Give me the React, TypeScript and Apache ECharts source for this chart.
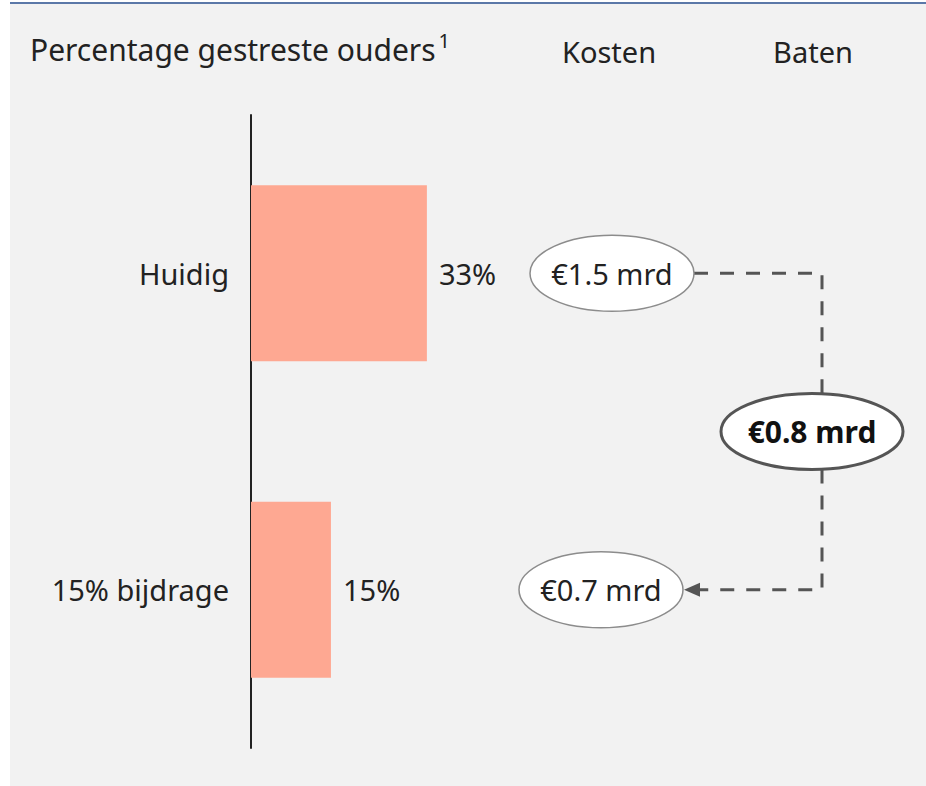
import React, { useEffect, useRef } from "react";
import * as echarts from "echarts";

const categories = ["Huidig", "15% bijdrage"];
const stressedPct = [33, 15];
const columns = ["Kosten", "Baten"];
const costs = [1.5, 0.7];
const benefit = [0.8];
const headerText = "Percentage gestreste ouders";
const footnoteMark = "1";

const FONT = '"Noto Sans", "Open Sans", sans-serif';
const TEXT = "#222222";
const DASH = "#555555";

const fmt = (v: number) => "€" + v.toFixed(1) + " mrd";

export default function App() {
  const ref = useRef<HTMLDivElement>(null);
  useEffect(() => {
    if (!ref.current) return;
    const chart = echarts.init(ref.current, null, { renderer: "svg" });
    const RX = 82;
    const RY = 38;
    const kostenShift = [3, -8];
    const batenShift = -1;
    const lineShift = 9;

    const option: any = {
      animation: false,
      backgroundColor: "#ffffff",
      graphic: [
        {
          type: "rect",
          z: -10,
          shape: { x: 10, y: 4, width: 916, height: 782 },
          style: { fill: "#f2f2f2" },
        },
        {
          type: "line",
          z: -9,
          shape: { x1: 10, y1: 3, x2: 926, y2: 3 },
          style: { stroke: "#5b78a8", lineWidth: 2 },
        },
      ],
      title: {
        text: "{a|" + headerText + "}{s|" + footnoteMark + "}",
        left: 25,
        top: 25,
        textStyle: {
          rich: {
            a: { fontFamily: FONT, fontSize: 30, color: TEXT, lineHeight: 39, fontWeight: "normal" },
            s: { fontFamily: FONT, fontSize: 20, color: TEXT, fontWeight: "normal", verticalAlign: "top", lineHeight: 22, padding: [0, 0, 12, 3] },
          },
        },
      },
      grid: [
        { left: 251, top: 115, width: 533, height: 633 },
        { left: 507, top: 115, width: 408, height: 633 },
      ],
      xAxis: [
        { type: "value", gridIndex: 0, min: 0, max: 100, show: false },
        {
          type: "category",
          gridIndex: 1,
          data: columns,
          position: "top",
          axisLine: { show: false },
          axisTick: { show: false },
          splitLine: { show: false },
          axisLabel: { fontFamily: FONT, fontSize: 29, color: TEXT, margin: 49 },
        },
      ],
      yAxis: [
        {
          type: "category",
          gridIndex: 0,
          data: categories,
          inverse: true,
          axisLine: { lineStyle: { color: TEXT, width: 2 } },
          axisTick: { show: false },
          axisLabel: { fontFamily: FONT, fontSize: 29, color: TEXT, margin: 22 },
        },
        { type: "category", gridIndex: 1, data: categories, inverse: true, show: false },
      ],
      series: [
        {
          type: "bar",
          xAxisIndex: 0,
          yAxisIndex: 0,
          data: stressedPct,
          barWidth: 176,
          itemStyle: { color: "#fea892" },
          label: {
            show: true,
            position: "right",
            distance: 12,
            formatter: (p: any) => p.value + "%",
            fontFamily: FONT,
            fontSize: 29,
            color: TEXT,
          },
        },
        {
          type: "custom",
          xAxisIndex: 1,
          yAxisIndex: 1,
          clip: false,
          z: 5,
          data: costs.map((v, i) => [0, i, v]),
          encode: { x: 0, y: 1 },
          renderItem: (params: any, api: any) => {
            const p = api.coord([api.value(0), api.value(1)]);
            const cx = p[0] + kostenShift[params.dataIndex];
            return {
              type: "group",
              children: [
                {
                  type: "ellipse",
                  shape: { cx, cy: p[1], rx: RX, ry: RY },
                  style: { fill: "#ffffff", stroke: "#8c8c8c", lineWidth: 1.5 },
                },
                {
                  type: "text",
                  style: {
                    x: cx,
                    y: p[1],
                    text: fmt(api.value(2)),
                    fontFamily: FONT,
                    fontSize: 29,
                    fill: TEXT,
                    align: "center",
                    verticalAlign: "middle",
                  },
                },
              ],
            };
          },
        },
        {
          type: "custom",
          xAxisIndex: 1,
          yAxisIndex: 1,
          clip: false,
          z: 4,
          data: benefit.map((v) => [1, 0, v]),
          encode: { x: 0, y: 1 },
          renderItem: (params: any, api: any) => {
            const top = api.coord([1, 0]);
            const bot = api.coord([1, 1]);
            const k0 = api.coord([0, 0]);
            const k1 = api.coord([0, 1]);
            const cy = (top[1] + bot[1]) / 2;
            const cx = top[0] + batenShift;
            const lx = top[0] + lineShift;
            const brx = 91;
            const k0Right = k0[0] + kostenShift[0] + RX;
            const k1Right = k1[0] + kostenShift[1] + RX;
            const dashStyle = { stroke: DASH, lineWidth: 3, lineDash: [14, 12], fill: null };
            return {
              type: "group",
              children: [
                {
                  type: "polyline",
                  shape: { points: [[k0Right, k0[1]], [lx, k0[1]], [lx, cy - RY]] },
                  style: dashStyle,
                },
                {
                  type: "polyline",
                  shape: { points: [[lx, cy + RY], [lx, k1[1]], [k1Right + 16, k1[1]]] },
                  style: dashStyle,
                },
                {
                  type: "polygon",
                  shape: { points: [[k1Right + 1, k1[1]], [k1Right + 17, k1[1] - 7], [k1Right + 17, k1[1] + 7]] },
                  style: { fill: DASH },
                },
                {
                  type: "ellipse",
                  shape: { cx, cy, rx: brx, ry: RY },
                  style: { fill: "#ffffff", stroke: "#555555", lineWidth: 3 },
                },
                {
                  type: "text",
                  style: {
                    x: cx,
                    y: cy,
                    text: fmt(api.value(2)),
                    fontFamily: FONT,
                    fontSize: 30,
                    fontWeight: "bold",
                    fill: "#111111",
                    align: "center",
                    verticalAlign: "middle",
                  },
                },
              ],
            };
          },
        },
      ],
    };
    chart.setOption(option);
    return () => chart.dispose();
  }, []);

  return (
    <div
      ref={ref}
      style={{ position: "fixed", left: 0, top: 0, width: 926, height: 786 }}
    />
  );
}
